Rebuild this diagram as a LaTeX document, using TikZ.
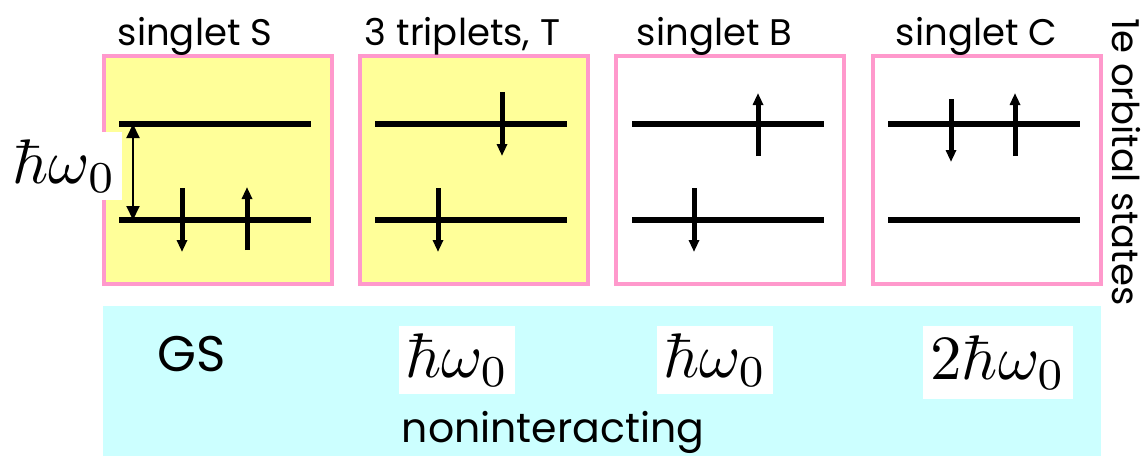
\documentclass[tikz,border=0pt]{standalone}
\usepackage[no-math]{fontspec}
\usepackage{graphicx}
\setmainfont{Poppins}
\usetikzlibrary{arrows.meta}
\definecolor{pinkb}{RGB}{255,153,204}
\definecolor{yell}{RGB}{255,255,153}
\definecolor{cyanb}{RGB}{204,255,255}
\newcommand{\bigmath}[1]{\scalebox{6.3}{$#1$}}
\begin{document}
\begin{tikzpicture}[x=1pt,y=-1pt,
  statebox/.style={draw=pinkb, line width=4pt, minimum width=228pt, minimum height=228pt, inner sep=0pt},
  toplabel/.style={anchor=base, inner sep=0pt, font=\fontsize{37}{42}\selectfont},
  level/.style={line width=6.5pt},
  spin/.style={line width=5pt, -{Triangle[width=10pt,length=12pt]}},
  gap/.style={line width=2pt, {Triangle[width=13pt,length=14pt]}-{Triangle[width=13pt,length=14pt]}},
  energy/.style={fill=white, inner sep=0pt}
]
\useasboundingbox (0,0) rectangle (1142,455);

% energy strip
\node[fill=cyanb, minimum width=998pt, minimum height=150pt, inner sep=0pt] (strip) at (602,381) {};

% state boxes
\node[statebox, fill=yell] (S) at (218,170) {};
\node[statebox, fill=yell] (T) at (473.5,170) {};
\node[statebox, fill=white] (B) at (730,170) {};
\node[statebox, fill=white] (C) at (986.5,170) {};

% top labels
\node[toplabel] (lS) at (195,45) {singlet S};
\node[toplabel] (lT) at (462.5,45) {3 triplets, T};
\node[toplabel] (lB) at (714.5,45) {singlet B};
\node[toplabel] (lC) at (976.5,45) {singlet C};
\node[toplabel, rotate=-90] (side) at (1112,162) {1e orbital states};

% levels
\foreach \n/\L in {S/102, T/358, B/615, C/871} {
  \coordinate (\n u1) at (\L+17,124);
  \coordinate (\n u2) at (\L+209,124);
  \coordinate (\n l1) at (\L+17,220);
  \coordinate (\n l2) at (\L+209,220);
  \draw[level] (\n u1) -- (\n u2);
  \draw[level] (\n l1) -- (\n l2);
}

% spins
\coordinate (s1a) at (182,188); \coordinate (s1b) at (182,252);
\coordinate (s2a) at (247,250); \coordinate (s2b) at (247,187);
\draw[spin] (s1a) -- (s1b);
\draw[spin] (s2a) -- (s2b);

\coordinate (t1a) at (502,92);  \coordinate (t1b) at (502,156);
\coordinate (t2a) at (438,188); \coordinate (t2b) at (438,252);
\draw[spin] (t1a) -- (t1b);
\draw[spin] (t2a) -- (t2b);

\coordinate (b1a) at (758,156); \coordinate (b1b) at (758,93);
\coordinate (b2a) at (694,188); \coordinate (b2b) at (694,252);
\draw[spin] (b1a) -- (b1b);
\draw[spin] (b2a) -- (b2b);

\coordinate (c1a) at (951,99);   \coordinate (c1b) at (951,162);
\coordinate (c2a) at (1015,156); \coordinate (c2b) at (1015,93);
\draw[spin] (c1a) -- (c1b);
\draw[spin] (c2a) -- (c2b);

% gap arrow and label
\coordinate (gtop) at (133,124);
\coordinate (gbot) at (133,220);
\draw[gap] (gtop) -- (gbot);
\node[energy, minimum width=115pt, minimum height=68pt] (gaplabel) at (64.5,166) {\bigmath{\hbar\omega_0}};

% energies
\node[anchor=base, inner sep=0pt, font=\fontsize{50}{56}\selectfont] (GS) at (192,371) {GS};
\node[energy, minimum width=116pt, minimum height=68pt] (eT) at (457,360) {\bigmath{\hbar\omega_0}};
\node[energy, minimum width=116pt, minimum height=68pt] (eB) at (715,360) {\bigmath{\hbar\omega_0}};
\node[energy, minimum width=150pt, minimum height=73pt] (eC) at (998,362.5) {\bigmath{2\hbar\omega_0}};
\node[anchor=base, inner sep=0pt, font=\fontsize{41}{46}\selectfont] (nonint) at (553,442) {noninteracting};
\end{tikzpicture}
\end{document}
